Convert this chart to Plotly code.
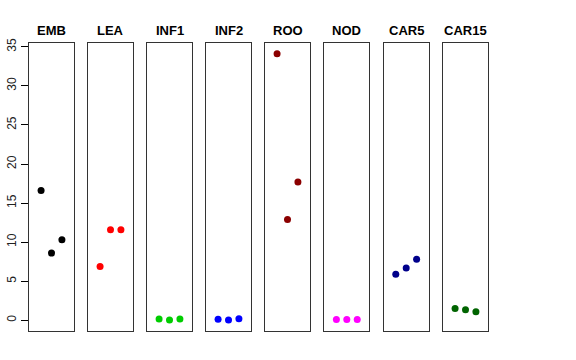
import plotly.graph_objects as go

tissues = ["EMB", "LEA", "INF1", "INF2", "ROO", "NOD", "CAR5", "CAR15"]
colors = ["#000000", "#FF0000", "#00CD00", "#0000FF", "#8B0000", "#FF00FF", "#00008B", "#006400"]
rep_x = [1, 2, 3]
values = {
    "EMB": [16.6, 8.6, 10.3],
    "LEA": [6.9, 11.6, 11.6],
    "INF1": [0.15, 0.05, 0.15],
    "INF2": [0.13, 0.03, 0.2],
    "ROO": [34.1, 12.9, 17.7],
    "NOD": [0.1, 0.1, 0.1],
    "CAR5": [5.9, 6.7, 7.8],
    "CAR15": [1.5, 1.35, 1.1],
}
y_ticks = [0, 5, 10, 15, 20, 25, 30, 35]

W, H = 576, 360
panel_left = [29, 88, 147, 206, 265, 324.3, 383.7, 443]
panel_w = 45
top_px, bot_px = 43.3, 331

fig = go.Figure()
layout = dict(
    width=W, height=H, margin=dict(l=0, r=0, t=0, b=0, autoexpand=False),
    paper_bgcolor="white", plot_bgcolor="white", showlegend=False,
    font=dict(family="Liberation Sans, Arial, sans-serif", color="black"),
)
annotations = []
ydom = [(H - bot_px) / H, (H - top_px) / H]
for i, t in enumerate(tissues):
    n = "" if i == 0 else str(i + 1)
    fig.add_trace(go.Scatter(
        x=rep_x, y=values[t], mode="markers",
        marker=dict(color=colors[i], size=7),
        xaxis="x" + n, yaxis="y" + n, hoverinfo="skip",
    ))
    xd = [panel_left[i] / W, (panel_left[i] + panel_w) / W]
    layout["xaxis" + n] = dict(
        domain=xd, range=[-0.16, 4.16], showticklabels=False, ticks="",
        showgrid=False, zeroline=False, showline=True, mirror=True,
        linecolor="#333333", linewidth=1, anchor="y" + n, automargin=False,
    )
    ya = dict(
        domain=ydom, range=[-1.37, 35.45], showgrid=False, zeroline=False,
        showline=True, mirror=True, linecolor="#333333", linewidth=1,
        anchor="x" + n, automargin=False,
    )
    if i == 0:
        ya.update(tickmode="array", tickvals=y_ticks, ticks="outside",
                  ticklen=7, tickcolor="black", tickangle=-90,
                  tickfont=dict(size=12, color="#222222"))
    else:
        ya.update(showticklabels=False, ticks="")
    layout["yaxis" + n] = ya
    annotations.append(dict(
        text="<b>%s</b>" % t, x=(panel_left[i] + panel_w / 2) / W,
        y=(H - 30) / H, xref="paper", yref="paper", showarrow=False,
        font=dict(size=13, color="black"), xanchor="center", yanchor="middle",
    ))
layout["annotations"] = annotations
fig.update_layout(**layout)
fig.write_html("out.html", post_script="document.body.style.margin='0';",
               config={"displayModeBar": False})
